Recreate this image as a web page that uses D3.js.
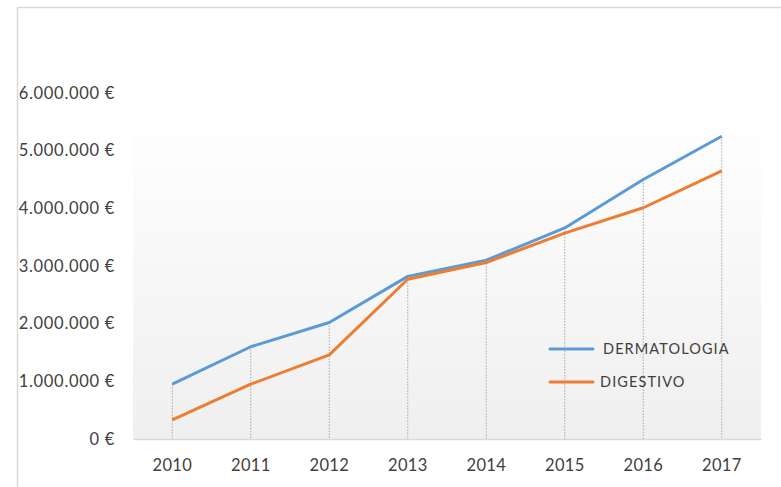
<!DOCTYPE html>
<html><head><meta charset="utf-8">
<script src="https://cdn.jsdelivr.net/npm/d3@7"></script>
<style>html,body{margin:0;padding:0;background:#fff;overflow:hidden}</style>
</head><body>
<svg id="chart" width="781" height="487"></svg>
<script>
const years = ["2010","2011","2012","2013","2014","2015","2016","2017"];
const dermatologia = [950000, 1600000, 2020000, 2820000, 3100000, 3660000, 4500000, 5250000];
const digestivo = [330000, 950000, 1460000, 2770000, 3060000, 3570000, 4010000, 4650000];
const seriesNames = ["DERMATOLOGIA", "DIGESTIVO"];
const seriesColors = ["#5b9bd5", "#ed7d31"];
const yTicks = [0, 1000000, 2000000, 3000000, 4000000, 5000000, 6000000];

const svg = d3.select("#chart");
const font = "Lato, 'Open Sans', sans-serif";
const textColor = "#404040";

// outer frame
svg.append("rect").attr("x", 17.5).attr("y", 7.5).attr("width", 800).attr("height", 500)
  .attr("fill", "none").attr("stroke", "#d9d9d9").attr("stroke-width", 1.5);

const x = d3.scaleBand().domain(years).range([133, 761]);
const y = d3.scaleLinear().domain([0, 6000000]).range([439, 93]);

// plot background gradient
const defs = svg.append("defs");
const grad = defs.append("linearGradient").attr("id", "bg").attr("x1", 0).attr("y1", 0).attr("x2", 0).attr("y2", 1);
grad.append("stop").attr("offset", "0%").attr("stop-color", "#fefefe");
grad.append("stop").attr("offset", "100%").attr("stop-color", "#efefef");
svg.append("rect").attr("x", 133).attr("y", 130).attr("width", 628).attr("height", 309).attr("fill", "url(#bg)");

// drop lines
const maxVals = years.map((yr, i) => Math.max(dermatologia[i], digestivo[i]));
svg.append("g").selectAll("line").data(years).join("line")
  .attr("x1", d => x(d) + x.bandwidth() / 2).attr("x2", d => x(d) + x.bandwidth() / 2)
  .attr("y1", (d, i) => y(maxVals[i])).attr("y2", y(0))
  .attr("stroke", "#a6a6a6").attr("stroke-width", 1).attr("stroke-dasharray", "1.5,1.5");

// x axis
const xAxis = svg.append("g").attr("transform", `translate(0,${y(0)})`)
  .call(d3.axisBottom(x).tickSize(0).tickPadding(20));
xAxis.select(".domain").attr("stroke", "#d9d9d9").attr("stroke-width", 1.5);
xAxis.selectAll("text").attr("font-family", font).attr("font-size", 16.5).attr("fill", textColor)
  .attr("letter-spacing", 0.3);

// y axis
const fmt = v => (v === 0 ? "0" : d3.format(",")(v).replace(/,/g, ".")) + " €";
const yAxis = svg.append("g").attr("transform", "translate(115,0)")
  .call(d3.axisLeft(y).tickValues(yTicks).tickFormat(fmt).tickSize(0).tickPadding(0));
yAxis.select(".domain").remove();
yAxis.selectAll("text").attr("font-family", font).attr("font-size", 16.5).attr("fill", textColor)
  .attr("letter-spacing", 0.7);

// lines
const line = d3.line().x((d, i) => x(years[i]) + x.bandwidth() / 2).y(d => y(d));
[dermatologia, digestivo].forEach((s, k) => {
  svg.append("path").datum(s).attr("d", line).attr("fill", "none")
    .attr("stroke", seriesColors[k]).attr("stroke-width", 3).attr("stroke-linejoin", "round");
});

// legend
const legendY = [349, 382];
const legendTextX = [603, 600];
seriesNames.forEach((n, k) => {
  svg.append("line").attr("x1", 550).attr("x2", 593).attr("y1", legendY[k]).attr("y2", legendY[k])
    .attr("stroke", seriesColors[k]).attr("stroke-width", 3).attr("stroke-linecap", "round");
  svg.append("text").attr("x", legendTextX[k]).attr("y", legendY[k]).attr("dy", "0.35em")
    .attr("font-family", font).attr("font-size", 14.5).attr("letter-spacing", 1.1)
    .attr("fill", textColor).text(n);
});
</script>
</body></html>
